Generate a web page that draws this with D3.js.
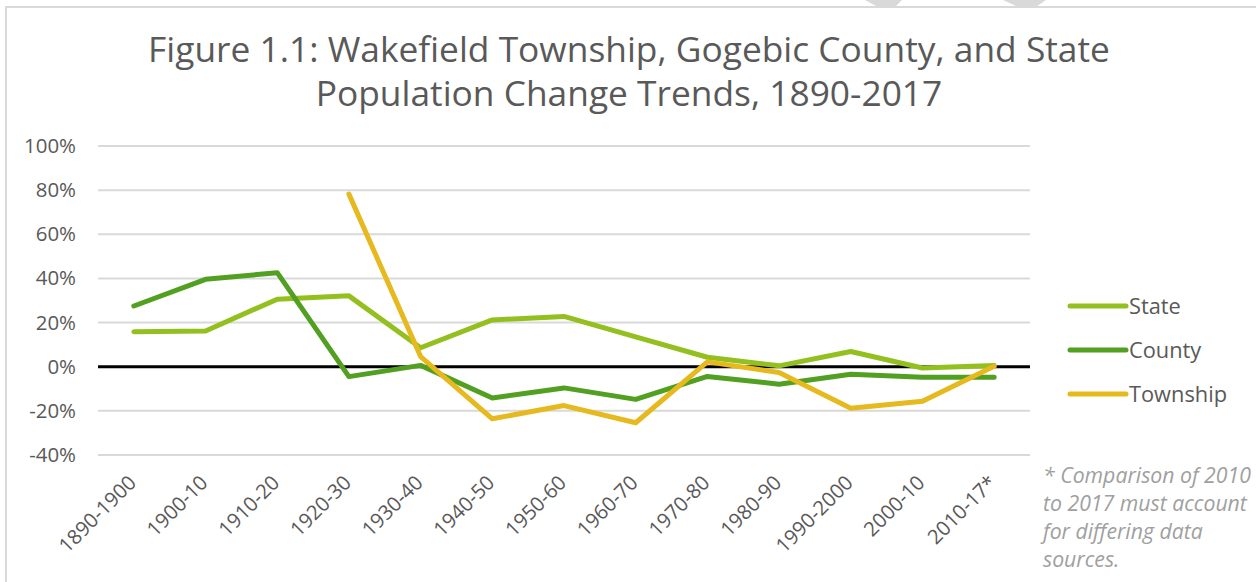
<!DOCTYPE html>
<html>
<head>
<meta charset="utf-8">
<script src="https://cdn.jsdelivr.net/npm/d3@7"></script>
<style>
  html, body { margin: 0; padding: 0; background: #fff; }
  svg { display: block; }
</style>
</head>
<body>
<div id="chart"></div>
<script>
// Données (variation en %)
const periods = ["1890-1900", "1900-10", "1910-20", "1920-30", "1930-40", "1940-50",
  "1950-60", "1960-70", "1970-80", "1980-90", "1990-2000", "2000-10", "2010-17*"];
const stateValues = [15.8, 16.2, 30.6, 32.1, 8.6, 21.2, 22.8, 13.5, 4.3, 0.4, 6.9, -0.6, 0.6];
const countyValues = [27.5, 39.6, 42.6, -4.5, 0.6, -14.2, -9.6, -14.8, -4.4, -7.9, -3.4, -4.8, -4.8];
const townshipValues = [null, null, null, 78.2, 4.6, -23.6, -17.6, -25.4, 2.2, -2.6, -18.8, -15.6, 0.2];
const yTicks = [-40, -20, 0, 20, 40, 60, 80, 100];
const seriesNames = ["State", "County", "Township"];
const seriesColors = ["#93c01f", "#52a021", "#e6b91e"];
const titleLines = ["Figure 1.1: Wakefield Township, Gogebic County, and State",
  "Population Change Trends, 1890-2017"];
const noteLines = ["* Comparison of 2010", "to 2017 must account", "for differing data", "sources."];

const width = 1256, height = 582;
const font = "'Open Sans', sans-serif";
const svg = d3.select("#chart").append("svg")
  .attr("width", width).attr("height", height);

// Ajuste la taille de police pour qu'un texte de référence ait la largeur voulue
function fitSize(text, target, style) {
  const t = svg.append("text")
    .attr("font-family", font)
    .attr("font-style", style || "normal")
    .attr("font-size", 20)
    .text(text);
  const w = t.node().getComputedTextLength();
  t.remove();
  return 20 * target / w;
}
const titleSize = fitSize(titleLines[0], 962);
const tickSize = fitSize("100%", 52);
const xLabelSize = fitSize("1900-10", 76);
const legendSize = fitSize("Township", 98);
const noteSize = fitSize(noteLines[1], 204, "italic");

// Cadre et forme grise en haut
svg.append("path")
  .attr("d", "M865,0 L902,0 L895,7 L878,7 Z M1003,0 L1046,0 L1036,7 L1018,7 Z")
  .attr("fill", "#d9d9d9");
svg.append("path")
  .attr("d", `M6,${height} L6,7 L${width},7`)
  .attr("fill", "none").attr("stroke", "#d9d9d9").attr("stroke-width", 2);

// Titre
svg.append("g").selectAll("text")
  .data(titleLines).enter().append("text")
  .attr("x", 629).attr("y", (d, i) => 62 + i * 44)
  .attr("text-anchor", "middle")
  .attr("font-family", font)
  .attr("font-size", titleSize)
  .attr("fill", "#595959")
  .text(d => d);

// Échelles
const x = d3.scalePoint().domain(periods).range([98, 1030]).padding(0.5);
const y = d3.scaleLinear().domain([-40, 100]).range([455, 146]);

// Grille horizontale
svg.append("g").selectAll("line")
  .data(yTicks.filter(t => t !== 0)).enter().append("line")
  .attr("x1", 98).attr("x2", 1030)
  .attr("y1", d => y(d)).attr("y2", d => y(d))
  .attr("stroke", "#d9d9d9").attr("stroke-width", 2);

// Axe Y (étiquettes)
const yAxis = svg.append("g")
  .attr("transform", "translate(78,0)")
  .call(d3.axisLeft(y).tickValues(yTicks).tickSize(0).tickPadding(2).tickFormat(d => d + "%"));
yAxis.select(".domain").remove();
yAxis.selectAll("text")
  .attr("font-family", font)
  .attr("font-size", tickSize)
  .attr("fill", "#595959");

// Axe X (étiquettes inclinées)
const xAxis = svg.append("g")
  .attr("transform", "translate(0,458)")
  .call(d3.axisBottom(x).tickSize(0).tickPadding(0));
xAxis.select(".domain").remove();
xAxis.selectAll("text")
  .attr("font-family", font)
  .attr("font-size", xLabelSize)
  .attr("fill", "#595959")
  .attr("text-anchor", "end")
  .attr("y", 0)
  .attr("dy", 0)
  .attr("transform", "translate(3,26) rotate(-45)");

// Ligne zéro
svg.append("line")
  .attr("x1", 98).attr("x2", 1030)
  .attr("y1", y(0)).attr("y2", y(0))
  .attr("stroke", "#000").attr("stroke-width", 3);

// Séries
const seriesData = [stateValues, countyValues, townshipValues];
const line = d3.line()
  .defined(d => d.v !== null)
  .x(d => x(d.p))
  .y(d => y(d.v));

seriesData.forEach((vals, i) => {
  svg.append("path")
    .datum(periods.map((p, j) => ({ p: p, v: vals[j] })))
    .attr("d", line)
    .attr("fill", "none")
    .attr("stroke", seriesColors[i])
    .attr("stroke-width", 5)
    .attr("stroke-linejoin", "round")
    .attr("stroke-linecap", "round");
});

// Légende
const legend = svg.append("g").selectAll("g")
  .data(seriesNames).enter().append("g")
  .attr("transform", (d, i) => `translate(1070,${306 + i * 44})`);
legend.append("line")
  .attr("x1", 0).attr("x2", 56)
  .attr("stroke", (d, i) => seriesColors[i])
  .attr("stroke-width", 5)
  .attr("stroke-linecap", "round");
legend.append("text")
  .attr("x", 59).attr("dy", "0.35em")
  .attr("font-family", font)
  .attr("font-size", legendSize)
  .attr("fill", "#595959")
  .text(d => d);

// Note
svg.append("g").selectAll("text")
  .data(noteLines).enter().append("text")
  .attr("x", 1043).attr("y", (d, i) => 483 + i * 28)
  .attr("font-family", font)
  .attr("font-style", "italic")
  .attr("font-size", noteSize)
  .attr("fill", "#a0a0a0")
  .text(d => d);
</script>
</body>
</html>
